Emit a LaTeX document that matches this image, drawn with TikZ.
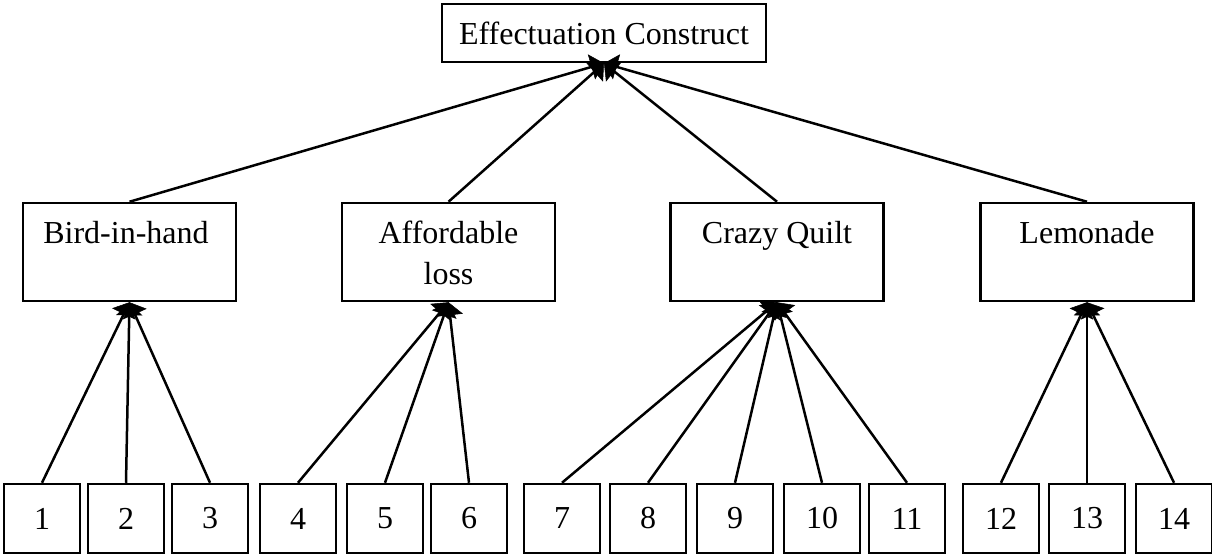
\documentclass[tikz,border=0pt]{standalone}
\usepackage{fontspec}
\setmainfont{Liberation Serif}
\usetikzlibrary{arrows.meta}
\tikzset{
  box/.style={draw=black, line width=2.5pt, fill=white, inner sep=0pt},
  topbox/.style={box, minimum width=324pt, minimum height=58pt},
  midbox/.style={box, minimum width=213pt, minimum height=98pt},
  leafbox/.style={box, minimum width=76pt, minimum height=69pt},
  lbl/.style={inner sep=0pt, anchor=base, align=center},
  conn/.style={line width=2.5pt, -{Triangle[width=26pt 0 0,length=13pt 0 0,line width=0.5pt]}},
  every node/.style={font=\fontsize{32}{41}\selectfont}
}
\begin{document}
\begin{tikzpicture}[x=1pt,y=-1pt]
\useasboundingbox (0,0) rectangle (1212,555);
% top
\node[topbox] (top) at (604,33) {Effectuation Construct};
% middle boxes
\node[midbox] (bih) at (129.5,252) {};
\node[midbox] (al)  at (448.5,252) {};
\node[midbox] (cq)  at (777,252) {};
\node[midbox] (lem) at (1087,252) {};
\node[lbl] (bihT) at (126,243) {Bird-in-hand};
\node[lbl] (alT)  at (448.5,243) {Affordable};
\node[lbl] (alT2) at (448.5,284) {loss};
\node[lbl] (cqT)  at (777,243) {Crazy Quilt};
\node[lbl] (lemT) at (1087,243) {Lemonade};
% leaves
\foreach \n/\x in {1/42,2/126,3/210,4/298,5/385,6/469,7/562,8/648,9/735,10/822,11/907,12/1001,13/1087,14/1174}
  \node[leafbox] (l\n) at (\x,518.5) {\n};
% connectors to top
\foreach \m in {bih,al,cq,lem}
  \draw[conn] (\m.north) -- (top.south);
% leaves to middle
\foreach \n in {1,2,3} \draw[conn] (l\n.north) -- (bih.south);
\foreach \n in {4,5,6} \draw[conn] (l\n.north) -- (al.south);
\foreach \n in {7,8,9,10,11} \draw[conn] (l\n.north) -- (cq.south);
\foreach \n in {12,13,14} \draw[conn] (l\n.north) -- (lem.south);
\end{tikzpicture}
\end{document}
